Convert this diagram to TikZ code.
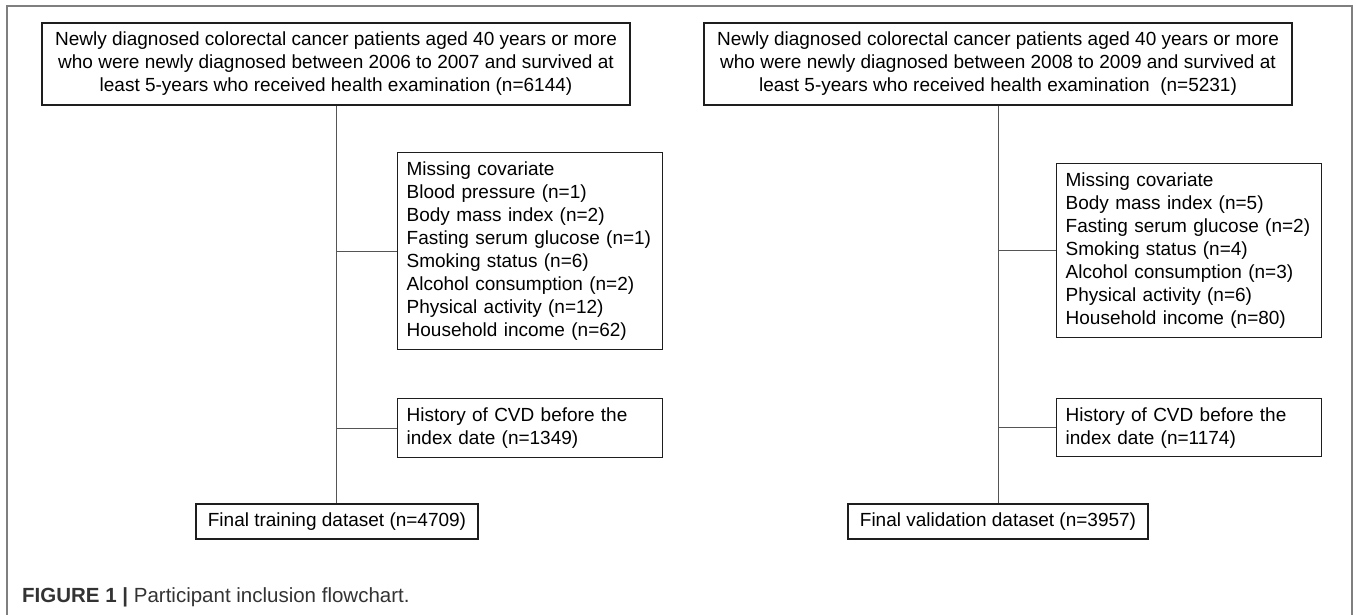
\documentclass[tikz,border=0pt]{standalone}
\usepackage{fontspec}
\setmainfont{Liberation Sans}
\definecolor{boxline}{HTML}{1E1E1E}
\definecolor{linkgray}{HTML}{555555}
\definecolor{framegray}{HTML}{7F7F7F}
\definecolor{captext}{HTML}{333333}
\newcommand{\boxfont}{\fontsize{19}{23}\selectfont}
\tikzset{
  flowbox/.style  = {shape=rectangle, draw=boxline, line width=1.3pt,
                     inner xsep=12pt, inner ysep=0pt, font=\boxfont},
  headbox/.style  = {flowbox, align=center, minimum width=588pt, minimum height=82pt},
  sidebox/.style  = {flowbox, align=left, anchor=north west,
                     inner xsep=9pt, text width=247pt},
  finalbox/.style = {flowbox, minimum height=35pt},
  link/.style     = {draw=linkgray, line width=1pt}
}
\begin{document}
\begin{tikzpicture}[x=1pt, y=-1pt]
  \useasboundingbox (0,0) rectangle (1357,615);
  \draw [framegray, line width=2pt] (7,615) -- (7,6) -- (1352,6) -- (1352,615);

  % training cohort
  \node [headbox] (topL) at (336,64)
    {Newly diagnosed colorectal cancer patients aged 40 years or more\\
     who were newly diagnosed between 2006 to 2007 and survived at\\
     least 5-years who received health examination (n=6144)};
  \node [sidebox, minimum height=197pt] (missL) at (397,152)
    {Missing covariate\\ Blood pressure (n=1)\\ Body mass index (n=2)\\
     Fasting serum glucose (n=1)\\ Smoking status (n=6)\\
     Alcohol consumption (n=2)\\ Physical activity (n=12)\\ Household income (n=62)};
  \node [sidebox, minimum height=59pt] (cvdL) at (397,398)
    {History of CVD before the\\ index date (n=1349)};
  \node [finalbox] (finL) at (337,521.5) {Final training dataset (n=4709)};

  % validation cohort
  \node [headbox] (topR) at (998,64)
    {Newly diagnosed colorectal cancer patients aged 40 years or more\\
     who were newly diagnosed between 2008 to 2009 and survived at\\
     least 5-years who received health examination\ \ (n=5231)};
  \node [sidebox, minimum height=174pt] (missR) at (1056,163)
    {Missing covariate\\ Body mass index (n=5)\\ Fasting serum glucose (n=2)\\
     Smoking status (n=4)\\ Alcohol consumption (n=3)\\
     Physical activity (n=6)\\ Household income (n=80)};
  \node [sidebox, minimum height=58pt] (cvdR) at (1056,398)
    {History of CVD before the\\ index date (n=1174)};
  \node [finalbox] (finR) at (998,521.5) {Final validation dataset (n=3957)};

  \foreach \side in {L,R} {
    \draw [link] (top\side.south) -- (top\side.south |- fin\side.north);
    \draw [link] (top\side.south |- miss\side.west) -- (miss\side.west);
    \draw [link] (top\side.south |- cvd\side.west) -- (cvd\side.west);
  }

  \node [anchor=west, text=captext, font=\fontsize{20.5}{24}\selectfont, inner sep=0pt] (caption) at (22,597)
    {\textbf{FIGURE 1 |} Participant inclusion flowchart.};
\end{tikzpicture}
\end{document}
